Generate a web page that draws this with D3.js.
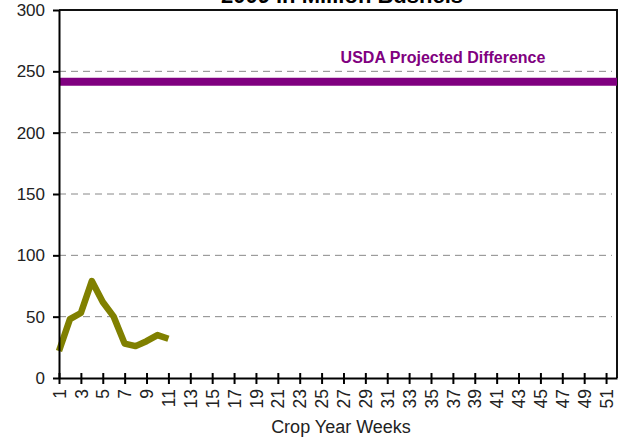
<!DOCTYPE html>
<html>
<head>
<style>
    body { margin: 0; background: #fff; }
    svg text { font-family: "Liberation Sans", Arial, sans-serif; }
</style>
</head>
<body>
<svg width="622" height="440"></svg>
<script src="https://d3js.org/d3.v7.min.js"></script>
<script>
    // data
    var weeks = [1, 2, 3, 4, 5, 6, 7, 8, 9, 10, 11];
    var difference = [22, 48, 53, 79, 62, 50, 28, 26, 30, 35, 32];
    var usdaWeeks = [1, 52];
    var usdaProjected = 241.5;
    var yTicks = [0, 50, 100, 150, 200, 250, 300];
    var xTicks = d3.range(1, 52, 2);

    var svg = d3.select("svg"),
        plotLeft = 59, plotRight = 617, plotTop = 10, plotBottom = 378;

    var x = d3.scaleLinear().domain([1, 52]).range([plotLeft, plotRight]);
    var y = d3.scaleLinear().domain([0, 300]).range([plotBottom, plotTop]);

    // title (only second line visible)
    svg.append("text")
        .attr("x", 342).attr("y", 3)
        .attr("text-anchor", "middle")
        .style("font-size", "22px").style("font-weight", "bold")
        .text("2009 in Million Bushels");

    // gridlines
    svg.append("g").selectAll("line")
        .data(yTicks.filter(function (d) { return d > 0 && d < 300; }))
        .enter().append("line")
        .attr("x1", plotLeft).attr("x2", plotRight - 5)
        .attr("y1", function (d) { return y(d); })
        .attr("y2", function (d) { return y(d); })
        .attr("stroke", "#888").attr("stroke-width", 1)
        .attr("stroke-dasharray", "7,5");

    // border top / right
    svg.append("path")
        .attr("d", "M" + plotLeft + "," + plotTop + "H" + plotRight + "V" + plotBottom)
        .attr("fill", "none").attr("stroke", "#111").attr("stroke-width", 2);

    // usda line
    svg.append("path")
        .datum(usdaWeeks)
        .attr("fill", "none").attr("stroke", "#800080").attr("stroke-width", 8)
        .attr("d", d3.line().x(function (d) { return x(d); }).y(function () { return y(usdaProjected); }));

    svg.append("text")
        .attr("x", 443).attr("y", 63)
        .attr("text-anchor", "middle")
        .attr("fill", "#800080")
        .style("font-size", "16px").style("font-weight", "bold")
        .text("USDA Projected Difference");

    // difference line
    svg.append("path")
        .datum(weeks.map(function (w, i) { return [w, difference[i]]; }))
        .attr("fill", "none").attr("stroke", "#808000").attr("stroke-width", 6.5)
        .attr("stroke-linejoin", "round")
        .attr("d", d3.line().x(function (d) { return x(d[0]); }).y(function (d) { return y(d[1]); }));

    // y axis
    var ya = svg.append("g").attr("transform", "translate(" + plotLeft + ",0)")
        .call(d3.axisLeft(y).tickValues(yTicks).tickSizeInner(6).tickSizeOuter(0).tickPadding(8));
    ya.select(".domain").attr("stroke", "#000").attr("stroke-width", 2);
    ya.selectAll(".tick line").attr("stroke", "#000").attr("stroke-width", 2);
    ya.selectAll(".tick text").attr("fill", "#222").style("font-size", "17px").style("font-family", "Liberation Sans, Arial, sans-serif");

    // x axis
    var xa = svg.append("g").attr("transform", "translate(0," + plotBottom + ")")
        .call(d3.axisBottom(x).tickValues(xTicks).tickSizeOuter(0));
    xa.select(".domain").attr("stroke", "#000").attr("stroke-width", 2);
    xa.selectAll(".tick line").attr("y1", -5).attr("y2", 6).attr("stroke", "#000").attr("stroke-width", 2);
    xa.selectAll(".tick text")
        .attr("transform", "rotate(-90)")
        .attr("text-anchor", "end")
        .attr("x", -11).attr("y", 0).attr("dy", "0.35em")
        .attr("fill", "#222")
        .style("font-size", "17.5px").style("font-family", "Liberation Sans, Arial, sans-serif");

    svg.append("text")
        .attr("x", 341).attr("y", 433)
        .attr("text-anchor", "middle")
        .attr("fill", "#222")
        .style("font-size", "18px")
        .text("Crop Year Weeks");
</script>
</body>
</html>
